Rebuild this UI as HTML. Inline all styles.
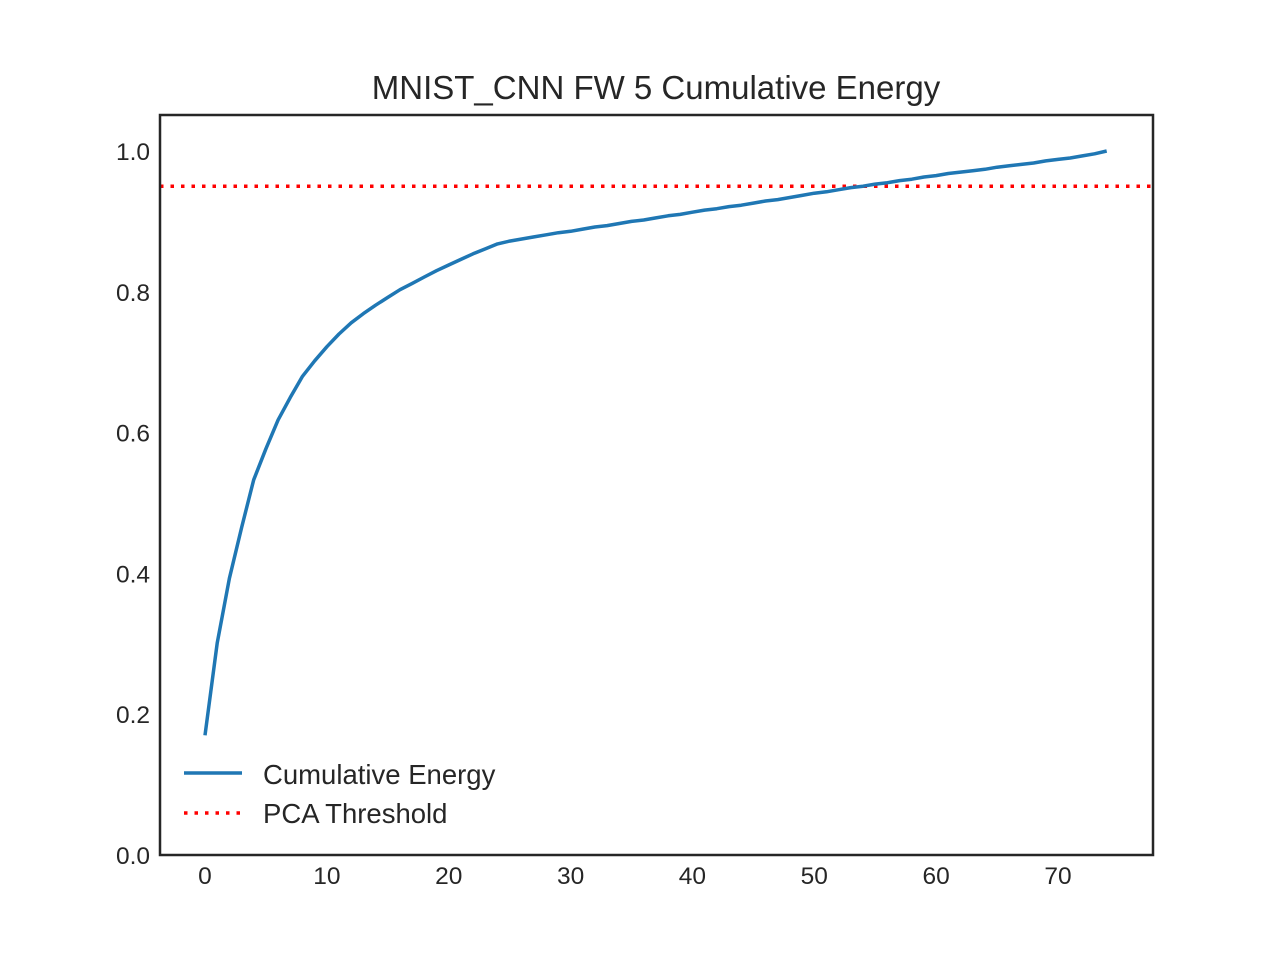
<!DOCTYPE html>
<html><head><meta charset="utf-8"><style>
body{margin:0;background:#fff;}
svg text{font-family:"Liberation Sans",Arial,sans-serif;fill:#262626;}
</style></head><body>
<svg width="1280" height="960" xmlns="http://www.w3.org/2000/svg">
<rect width="1280" height="960" fill="#fff"/>
<text x="656" y="99" font-size="33" text-anchor="middle">MNIST_CNN FW 5 Cumulative Energy</text>
<g id="ticks"></g>
<line x1="160" y1="186" x2="1153" y2="186" id="thr" stroke="#ff0000" stroke-width="3.5" stroke-dasharray="3.5,7"/>
<path id="curve" fill="none" stroke="#1f77b4" stroke-width="3.5" stroke-linejoin="round"/>
<rect x="160" y="115" width="993" height="740" fill="none" stroke="#262626" stroke-width="2.5"/>
<g>
<line x1="184" y1="773" x2="242" y2="773" stroke="#1f77b4" stroke-width="3.5"/>
<text x="263" y="784" font-size="27.5">Cumulative Energy</text>
<line x1="184" y1="813" x2="242" y2="813" stroke="#ff0000" stroke-width="3.5" stroke-dasharray="3.5,7"/>
<text x="263" y="823" font-size="27.5">PCA Threshold</text>
</g>
</svg>
<script>
const energy=[0.170,0.301,0.393,0.465,0.533,0.577,0.618,0.650,0.680,0.702,0.722,0.740,0.756,0.769,0.781,0.792,0.803,0.812,0.821,0.830,0.838,0.846,0.854,0.861,0.868,0.872,0.875,0.878,0.881,0.884,0.886,0.889,0.892,0.894,0.897,0.900,0.902,0.905,0.908,0.910,0.913,0.916,0.918,0.921,0.923,0.926,0.929,0.931,0.934,0.937,0.940,0.942,0.945,0.948,0.950,0.953,0.955,0.958,0.960,0.963,0.965,0.968,0.970,0.972,0.974,0.977,0.979,0.981,0.983,0.986,0.988,0.990,0.993,0.996,1.000];
const threshold=[0.95];
const xTicks=[0,10,20,30,40,50,60,70];
const yTicks=[0.0,0.2,0.4,0.6,0.8,1.0];
const X=v=>205+v*853/70, Y=v=>855-v*704;
document.getElementById('curve').setAttribute('d',energy.map((v,i)=>(i?'L':'M')+X(i).toFixed(1)+','+Y(v).toFixed(1)).join(''));
const t=document.getElementById('thr');t.setAttribute('y1',Y(threshold[0]));t.setAttribute('y2',Y(threshold[0]));
const g=document.getElementById('ticks'),ns='http://www.w3.org/2000/svg';
xTicks.forEach(v=>{const e=document.createElementNS(ns,'text');e.setAttribute('x',X(v));e.setAttribute('y',884);e.setAttribute('font-size','24.5');e.setAttribute('text-anchor','middle');e.textContent=v;


g.appendChild(e);});
yTicks.forEach(v=>{const e=document.createElementNS(ns,'text');e.setAttribute('x',150);e.setAttribute('y',Y(v)+9);e.setAttribute('font-size','24.5');e.setAttribute('text-anchor','end');e.textContent=v.toFixed(1);


g.appendChild(e);});
</script>
</body></html>
